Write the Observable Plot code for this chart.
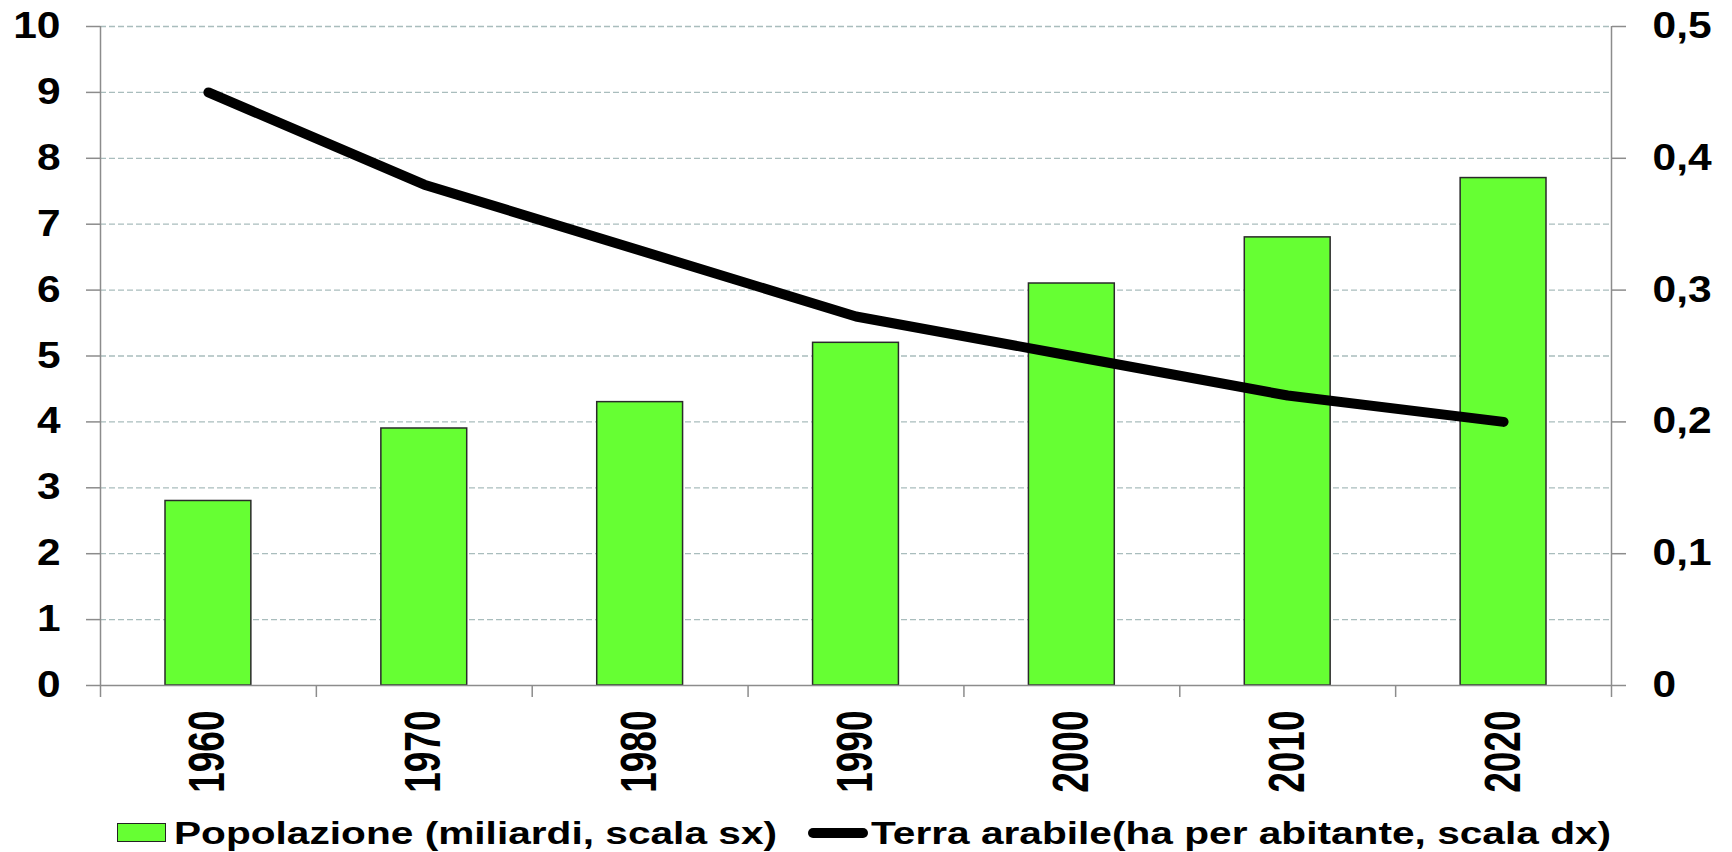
<!DOCTYPE html>
<html><head><meta charset="utf-8">
<script src="https://cdn.jsdelivr.net/npm/d3@7"></script>
<script src="https://cdn.jsdelivr.net/npm/@observablehq/plot@0.6"></script>
<style>
body{margin:0;background:#fff;font-family:"Liberation Sans",Arial,sans-serif;}
#legend{position:relative;width:1732px;height:47px;font-weight:bold;font-size:32px;color:#000;}
#legend .sw1{position:absolute;left:117px;top:18px;width:47px;height:17px;background:#66ff33;border:1.5px solid #222;}
#legend .sw2{position:absolute;left:808px;top:23px;width:60px;height:10px;background:#000;border-radius:5px;}
#legend .t{position:absolute;top:10px;line-height:36px;white-space:nowrap;transform:scaleX(1.27);transform-origin:0 50%;}
</style></head><body>
<div id="chart"></div>
<div id="legend">
  <div class="sw1"></div><div class="t" id="t1" style="left:174px"></div>
  <div class="sw2"></div><div class="t" id="t2" style="left:871px"></div>
</div>
<script>
const years = [1960, 1970, 1980, 1990, 2000, 2010, 2020];
const popolazione = [2.8, 3.9, 4.3, 5.2, 6.1, 6.8, 7.7];
const terraArabile = [0.45, 0.38, 0.33, 0.28, 0.25, 0.22, 0.20];
const leftTicks = [0, 1, 2, 3, 4, 5, 6, 7, 8, 9, 10];
const rightTicks = [0, 0.1, 0.2, 0.3, 0.4, 0.5];
const rightTickLabels = ["0", "0,1", "0,2", "0,3", "0,4", "0,5"];
const decadeEdges = [1955, 1965, 1975, 1985, 1995, 2005, 2015, 2025];
const legendLabels = ["Popolazione (miliardi, scala sx)", "Terra arabile(ha per abitante, scala dx)"];
const ratio = 20; // right scale max 0.5 maps to left 10

document.getElementById("t1").textContent = legendLabels[0];
document.getElementById("t2").textContent = legendLabels[1];

const data = years.map((year, i) => ({year, pop: popolazione[i], terra: terraArabile[i]}));

const plot = Plot.plot({
  width: 1732, height: 805,
  marginTop: 26, marginBottom: 120, marginLeft: 100, marginRight: 121,
  style: {fontFamily: "Liberation Sans, Arial, sans-serif", fontWeight: "bold", fontSize: "36px", color: "#000", background: "#fff", overflow: "visible"},
  x: {type: "linear", domain: [decadeEdges[0], decadeEdges[decadeEdges.length - 1]]},
  y: {domain: [0, 10]},
  marks: [
    Plot.ruleY(leftTicks.filter(d => d > 0), {stroke: "#a9bdbd", strokeDasharray: "6,3", strokeWidth: 1.3}),
    Plot.rectY(data, {x1: d => d.year - 5, x2: d => d.year + 5, y: "pop", insetLeft: 65, insetRight: 65, fill: "#66ff33", stroke: "#2a2a2a", strokeWidth: 1.5}),
    Plot.ruleX([decadeEdges[0], decadeEdges[decadeEdges.length - 1]], {stroke: "#8c8c8c", strokeWidth: 1.5}),
    Plot.ruleY([0], {stroke: "#8c8c8c", strokeWidth: 1.5}),
    Plot.line(data, {x: "year", y: d => d.terra * ratio, stroke: "#000", strokeWidth: 10, strokeLinecap: "round", strokeLinejoin: "round"}),
    Plot.axisY(leftTicks, {anchor: "left", tickSize: 14, tickPadding: 26, stroke: "#8c8c8c", strokeWidth: 1.5, fill: "#000", fontSize: 36, fontWeight: "bold", label: null, tickFormat: d => String(d)}),
    Plot.axisY(rightTicks.map(v => v * ratio), {anchor: "right", tickSize: 14, tickPadding: 27, stroke: "#8c8c8c", strokeWidth: 1.5, fill: "#000", fontSize: 36, fontWeight: "bold", label: null, tickFormat: (d, i) => rightTickLabels[i]}),
    Plot.axisX(decadeEdges, {anchor: "bottom", tickSize: 12, stroke: "#8c8c8c", strokeWidth: 1.5, tickFormat: () => "", label: null}),
    Plot.axisX(years, {anchor: "bottom", tickSize: 0, tickPadding: 25, tickRotate: -90, fill: "#000", fontSize: 50, fontWeight: "bold", label: null, tickFormat: d => String(d)})
  ]
});
document.getElementById("chart").appendChild(plot);

// the reference's lettering is widened; adjust glyph lengths with textLength (position untouched)
function setLength(selector, factor) {
  plot.querySelectorAll(selector).forEach(t => {
    if (!t.textContent) return;
    const len = t.getComputedTextLength();
    if (len > 0) {
      t.setAttribute("textLength", (len * factor).toFixed(1));
      t.setAttribute("lengthAdjust", "spacingAndGlyphs");
    }
  });
}
setLength('g[aria-label="y-axis tick label"] text', 1.18);
// x labels: drawn larger (thicker) and compressed back along their length
setLength('g[aria-label="x-axis tick label"] text', 37 / 50);
</script>
</body></html>
